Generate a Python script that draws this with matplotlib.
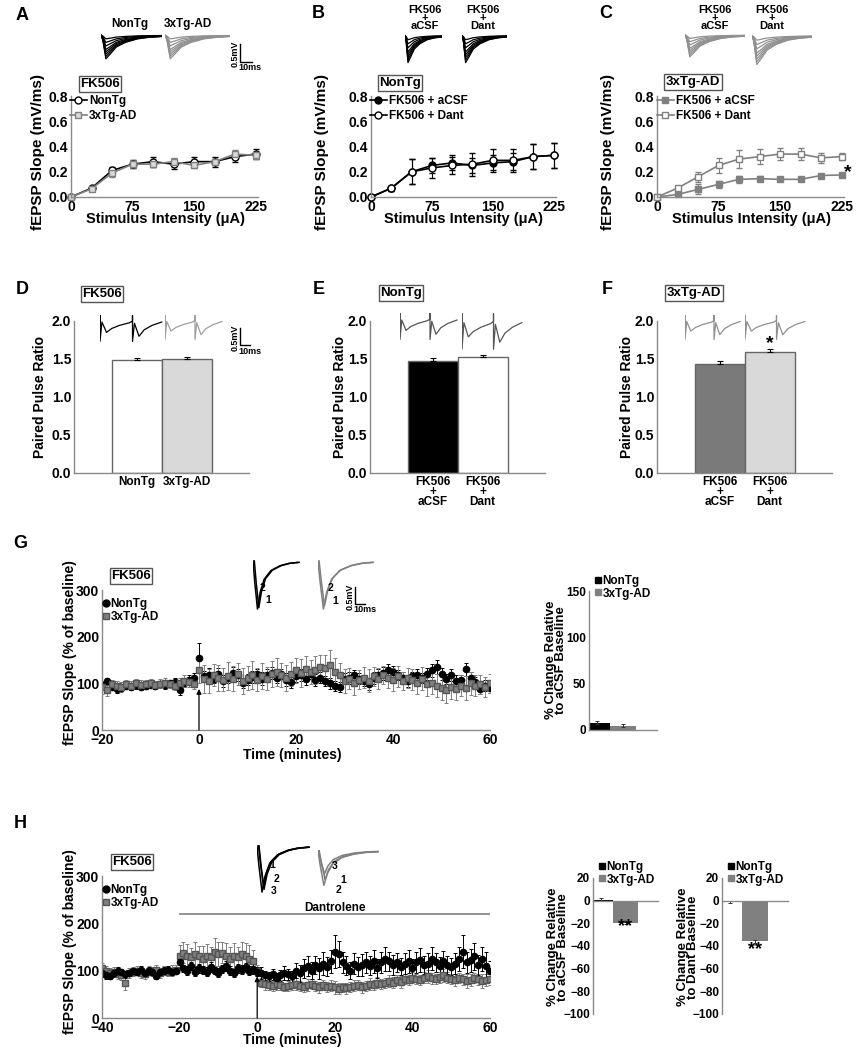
import numpy as np
import matplotlib
matplotlib.use('Agg')
import matplotlib.pyplot as plt
from matplotlib.lines import Line2D

# ---- data ----
IO_X = [0, 25, 50, 75, 100, 125, 150, 175, 200, 225]

A_NONTG = [0, 0.07, 0.21, 0.26, 0.28, 0.26, 0.28, 0.28, 0.32, 0.34]
A_NONTG_ERR = [0.01, 0.01, 0.03, 0.03, 0.04, 0.04, 0.04, 0.04, 0.04, 0.04]
A_3XTG = [0, 0.065, 0.19, 0.26, 0.26, 0.28, 0.25, 0.28, 0.34, 0.33]
A_3XTG_ERR = [0.01, 0.01, 0.03, 0.03, 0.02, 0.03, 0.02, 0.02, 0.03, 0.03]

B_ACSF = [0, 0.07, 0.20, 0.25, 0.27, 0.25, 0.27, 0.28, 0.32, 0.33]
B_ACSF_ERR = [0.01, 0.02, 0.10, 0.06, 0.06, 0.06, 0.06, 0.07, 0.10, 0.10]
B_DANT = [0, 0.07, 0.20, 0.23, 0.25, 0.26, 0.29, 0.29, 0.32, 0.33]
B_DANT_ERR = [0.01, 0.02, 0.10, 0.08, 0.07, 0.09, 0.09, 0.09, 0.10, 0.10]

C_ACSF = [0, 0.02, 0.06, 0.10, 0.14, 0.145, 0.14, 0.14, 0.17, 0.175]
C_ACSF_ERR = [0.005, 0.01, 0.04, 0.03, 0.03, 0.02, 0.01, 0.01, 0.01, 0.01]
C_DANT = [0, 0.07, 0.16, 0.25, 0.30, 0.32, 0.34, 0.34, 0.31, 0.32]
C_DANT_ERR = [0.01, 0.02, 0.04, 0.06, 0.07, 0.06, 0.05, 0.05, 0.04, 0.03]

D_LABELS = ['NonTg', '3xTg-AD']
D_PPR = [1.49, 1.50]
D_PPR_ERR = [0.02, 0.02]
EF_LABELS = ['FK506\n+\naCSF', 'FK506\n+\nDant']
E_PPR = [1.48, 1.52]
E_PPR_ERR = [0.03, 0.03]
F_PPR = [1.44, 1.59]
F_PPR_ERR = [0.03, 0.04]

G_TIME = list(range(-20, 61))
G_NONTG = [97, 105, 92, 88, 90, 95, 92, 96, 93, 95,
           97, 95, 98, 96, 100, 102, 85, 100, 108, 112,
           155, 115, 118, 110, 120, 105, 112, 122, 118, 100,
           108, 113, 120, 110, 118, 122, 112, 120, 108, 102,
           115, 118, 110, 120, 108, 112, 105, 100, 95, 92,
           110, 112, 118, 110, 104, 98, 112, 118, 122, 128,
           125, 118, 112, 105, 115, 118, 112, 120, 128, 135,
           120, 110, 118, 105, 108, 130, 112, 102, 88, 95,
           90]
G_NONTG_ERR = [8, 7, 6, 8, 7, 6, 7, 8, 6, 7,
               8, 7, 6, 8, 7, 9, 10, 8, 9, 10,
               32, 12, 14, 10, 13, 12, 11, 14, 12, 10,
               12, 13, 11, 14, 12, 13, 12, 11, 14, 12,
               13, 12, 14, 11, 13, 12, 10, 12, 11, 10,
               12, 13, 11, 12, 10, 12, 13, 12, 14, 13,
               12, 11, 13, 12, 10, 12, 11, 13, 14, 15,
               12, 11, 13, 12, 10, 14, 12, 11, 10, 12,
               11]
G_3XTG = [92, 85, 98, 95, 92, 98, 95, 100, 96, 98,
          100, 97, 99, 100, 98, 95, 100, 105, 102, 98,
          128, 110, 105, 118, 112, 108, 115, 110, 120, 105,
          112, 118, 108, 115, 110, 120, 125, 118, 112, 120,
          128, 122, 130, 125, 128, 135, 132, 140, 125, 118,
          105, 110, 100, 108, 112, 106, 115, 110, 118, 112,
          108, 115, 105, 112, 108, 100, 110, 98, 100, 95,
          90, 85, 92, 88, 95, 90, 100, 95, 98, 92,
          100]
G_3XTG_ERR = [14, 12, 10, 9, 11, 10, 9, 10, 11, 9,
              10, 9, 10, 11, 9, 10, 11, 12, 10, 11,
              28, 30, 26, 24, 28, 25, 30, 27, 24, 28,
              26, 30, 25, 28, 24, 27, 30, 26, 28, 25,
              27, 30, 28, 26, 30, 25, 28, 32, 30, 26,
              25, 22, 24, 20, 22, 24, 21, 23, 20, 22,
              24, 22, 20, 21, 23, 22, 24, 25, 22, 24,
              26, 28, 25, 24, 22, 26, 24, 22, 20, 22,
              20]
G_BAR = [8, 4.5]
G_BAR_ERR = [2, 1.5]

H_TIME = list(range(-40, 61))
H_NONTG = [95, 90, 88, 95, 100, 98, 92, 95, 100, 98,
           102, 96, 100, 98, 88, 97, 100, 102, 98, 100,
           118, 105, 100, 110, 98, 105, 102, 98, 108, 100,
           96, 104, 110, 100, 95, 105, 102, 108, 100, 104,
           98, 95, 90, 88, 92, 85, 90, 95, 92, 88,
           100, 95, 105, 110, 100, 112, 105, 115, 108, 120,
           140, 135, 118, 110, 100, 115, 108, 112, 118, 110,
           120, 105, 118, 125, 120, 112, 118, 108, 115, 120,
           105, 118, 122, 112, 115, 125, 118, 110, 120, 112,
           108, 115, 125, 140, 118, 122, 130, 112, 125, 110,
           100]
H_NONTG_ERR = [8, 7, 6, 8, 7, 6, 8, 7, 6, 7,
               8, 6, 7, 8, 6, 7, 8, 7, 6, 8,
               10, 8, 9, 8, 10, 9, 8, 9, 10, 8,
               9, 8, 10, 9, 8, 9, 10, 8, 9, 10,
               10, 12, 10, 9, 11, 10, 12, 14, 12, 11,
               16, 18, 20, 22, 18, 20, 22, 25, 20, 24,
               35, 28, 22, 20, 18, 22, 20, 24, 22, 20,
               24, 20, 22, 25, 20, 22, 20, 18, 22, 24,
               20, 22, 25, 20, 22, 24, 20, 18, 22, 20,
               18, 22, 25, 35, 22, 24, 28, 22, 25, 30,
               20]
H_3XTG = [105, 100, 95, 98, 92, 90, 75, 95, 98, 100,
          95, 92, 100, 98, 102, 95, 100, 98, 100, 102,
          130, 138, 132, 128, 135, 130, 125, 132, 128, 140,
          135, 138, 130, 125, 132, 128, 135, 130, 125, 120,
          100, 75, 72, 70, 68, 72, 70, 65, 68, 70,
          72, 68, 65, 70, 72, 68, 65, 70, 66, 68,
          65, 62, 65, 63, 66, 68, 70, 65, 68, 72,
          70, 75, 72, 74, 78, 75, 80, 76, 82, 80,
          85, 82, 80, 85, 88, 84, 82, 86, 90, 85,
          82, 80, 85, 82, 78, 80, 85, 82, 78, 80,
          82]
H_3XTG_ERR = [12, 10, 11, 10, 9, 10, 15, 10, 9, 10,
              11, 9, 10, 9, 10, 11, 9, 10, 11, 10,
              25, 22, 24, 20, 25, 22, 28, 24, 22, 30,
              26, 22, 28, 24, 26, 22, 25, 28, 30, 24,
              12, 10, 12, 10, 11, 12, 10, 9, 11, 10,
              12, 10, 11, 12, 10, 11, 12, 10, 11, 12,
              14, 12, 10, 12, 11, 12, 10, 12, 11, 12,
              10, 12, 11, 10, 12, 11, 10, 12, 11, 10,
              12, 11, 10, 12, 14, 12, 11, 12, 14, 12,
              11, 12, 10, 12, 14, 12, 11, 12, 14, 12,
              12]
H_BAR_ACSF = [1, -19.5]
H_BAR_ACSF_ERR = [1, 1]
H_BAR_DANT = [-1, -36]
H_BAR_DANT_ERR = [1, 1]

# illustrative sweep shapes (normalised)
IO_TRACE_T = [0, 0.03, 0.08, 0.15, 0.25, 0.4, 0.6, 0.8, 1.0]
IO_TRACE_V = [0, -0.2, -1.0, -0.8, -0.5, -0.3, -0.15, -0.08, -0.05]
IO_AMPS = [0.15, 0.3, 0.45, 0.6, 0.7, 0.8, 0.9, 1.0]
PP_T = [0, 0, 0, 0.03, 0.1, 0.18, 0.3, 0.45, 0.5, 0.5, 0.5, 0.53, 0.6, 0.68, 0.8, 0.95]
PP_V = [0.6, 1.0, 0.0, 0.75, 0.35, 0.5, 0.62, 0.72, 0.78, 1.0, 0.0, 0.7, 0.2, 0.45, 0.62, 0.75]
FP_T = [0, 0.04, 0.1, 0.16, 0.25, 0.4, 0.6, 0.8, 1.0]
FP_V = [1.0, 0.55, 0.0, 0.35, 0.62, 0.8, 0.9, 0.95, 0.97]

# ---- figure setup ----
W, H = 856, 1050
plt.rcParams['font.family'] = ['Liberation Sans', 'DejaVu Sans']
plt.rcParams['font.weight'] = 'bold'
plt.rcParams['axes.labelweight'] = 'bold'
AXIS_GRAY = '#8a8a8a'
GRAY = '#808080'
LIGHT = '#d9d9d9'

fig = plt.figure(figsize=(W / 100, H / 100), dpi=100)


def add_ax(l, t, r, b):
    return fig.add_axes([l / W, 1 - b / H, (r - l) / W, (b - t) / H])


def ftext(x, y, s, **kw):
    kw.setdefault('ha', 'center')
    kw.setdefault('va', 'center')
    return fig.text(x / W, 1 - y / H, s, **kw)


def fline(xs, ys, color='black', lw=1):
    fig.add_artist(Line2D([x / W for x in xs], [1 - y / H for y in ys],
                          transform=fig.transFigure, color=color, lw=lw))


def style(ax, tsize=10):
    for s in ['top', 'right']:
        ax.spines[s].set_visible(False)
    for s in ['left', 'bottom']:
        ax.spines[s].set_color(AXIS_GRAY)
        ax.spines[s].set_linewidth(1)
    ax.tick_params(length=0, labelsize=tsize, pad=2)


def box_label(x, y, s):
    ftext(x, y, s, fontsize=9.5,
          bbox=dict(boxstyle='square,pad=0.12', fc='white', ec='#555555', lw=1))


def noclip(cont):
    for art in cont.get_children():
        art.set_clip_on(False)


def scale_bar(x, y0, y1, x1):
    fline([x, x, x1], [y0, y1, y1], lw=1)
    ftext(x - 5, (y0 + y1) / 2 + 1, '0.5mV', fontsize=6.5, rotation=90)
    ftext(x + 10, y1 + 6, '10ms', fontsize=6.5)


# ---- A, B, C: input/output curves ----
def io_panel(l, r, series, leg_xy):
    ax = add_ax(l, 96, r, 197)
    style(ax)
    handles = []
    for y, err, color, mfc, mec, marker, label in series:
        c = ax.errorbar(IO_X, y, yerr=err, color=color, marker=marker, mfc=mfc,
                        mec=mec, ms=5, lw=1.2, elinewidth=0.8, capsize=2,
                        ecolor=color)
        noclip(c)
        handles.append(Line2D([], [], color=color, marker=marker, mfc=mfc,
                              mec=mec, ms=5, lw=1.2, label=label))
    ax.set_xlim(0, 228)
    ax.set_ylim(0, 0.8)
    ax.set_xticks([0, 75, 150, 225])
    ax.set_yticks([0, 0.2, 0.4, 0.6, 0.8])
    ax.set_yticklabels(['0.0', '0.2', '0.4', '0.6', '0.8'])
    ax.legend(handles=handles, loc='upper left',
              bbox_to_anchor=(leg_xy[0] / W, 1 - leg_xy[1] / H),
              bbox_transform=fig.transFigure, frameon=False, fontsize=8.5,
              handlelength=1.4, handletextpad=0.2, labelspacing=0.25,
              borderpad=0, borderaxespad=0)
    return ax


io_panel(71, 258, [
    (A_NONTG, A_NONTG_ERR, 'black', 'white', 'black', 'o', 'NonTg'),
    (A_3XTG, A_3XTG_ERR, GRAY, LIGHT, GRAY, 's', '3xTg-AD')], (70, 95))
io_panel(371, 556, [
    (B_ACSF, B_ACSF_ERR, 'black', 'black', 'black', 'o', 'FK506 + aCSF'),
    (B_DANT, B_DANT_ERR, 'black', 'white', 'black', 'o', 'FK506 + Dant')], (370, 95))
axc = io_panel(657, 844, [
    (C_ACSF, C_ACSF_ERR, GRAY, GRAY, GRAY, 's', 'FK506 + aCSF'),
    (C_DANT, C_DANT_ERR, GRAY, 'white', GRAY, 's', 'FK506 + Dant')], (657, 95))
axc.text(233, 0.19, '*', fontsize=14, ha='center', va='center', clip_on=False)

for x in [38, 322, 608]:
    ftext(x, 152, 'fEPSP Slope (mV/ms)', fontsize=11, rotation=90)
for x in [165, 463, 751]:
    ftext(x, 219, 'Stimulus Intensity (\u03bcA)', fontsize=10.5)

box_label(100, 84, 'FK506')
box_label(400, 83, 'NonTg')
box_label(693, 82, '3xTg-AD')

for x, y, s in [(22, 15, 'A'), (318, 14, 'B'), (606, 14, 'C'),
                (22, 290, 'D'), (319, 290, 'E'), (607, 289, 'F'),
                (20, 543, 'G'), (20, 823, 'H')]:
    ftext(x, y, s, fontsize=13)


def io_traces(l, t, r, b, color):
    ax = add_ax(l, t, r, b)
    ax.axis('off')
    for a in IO_AMPS:
        ax.plot(IO_TRACE_T, np.array(IO_TRACE_V) * a, color=color, lw=0.9)
    ax.set_xlim(0, 1)
    ax.set_ylim(-1.05, 0.1)


io_traces(101, 33, 162, 60, 'black')
io_traces(165, 33, 230, 60, '#909090')
ftext(130, 24, 'NonTg', fontsize=8.5)
ftext(188, 24, '3xTg-AD', fontsize=8.5)
scale_bar(240, 44, 62, 252)

io_traces(405, 33, 442, 64, 'black')
io_traces(462, 33, 507, 64, 'black')
io_traces(685, 33, 745, 58, '#909090')
io_traces(752, 33, 812, 66, '#909090')
ftext(425, 18, 'FK506\n+\naCSF', fontsize=8, linespacing=0.8)
ftext(483, 18, 'FK506\n+\nDant', fontsize=8, linespacing=0.8)
ftext(715, 18, 'FK506\n+\naCSF', fontsize=8, linespacing=0.8)
ftext(772, 18, 'FK506\n+\nDant', fontsize=8, linespacing=0.8)


# ---- D, E, F: paired pulse ratio ----
def ppr_panel(l, vals, errs, colors, labels):
    ax = add_ax(l, 321, l + 175, 473)
    style(ax)
    ax.bar([0, 1], vals, width=1, color=colors, edgecolor='#666666', lw=1,
           yerr=[[0, 0], errs], error_kw=dict(ecolor='black', capsize=2,
                                              elinewidth=0.8, capthick=0.8))
    ax.set_xlim(-1.25, 2.25)
    ax.set_ylim(0, 2.0)
    ax.set_yticks([0, 0.5, 1.0, 1.5, 2.0])
    ax.set_yticklabels(['0.0', '0.5', '1.0', '1.5', '2.0'])
    ax.set_xticks([0, 1])
    ax.set_xticklabels(labels, fontsize=8.5, linespacing=0.8)
    return ax


ppr_panel(74, D_PPR, D_PPR_ERR, ['white', LIGHT], D_LABELS)
ppr_panel(370, E_PPR, E_PPR_ERR, ['black', 'white'], EF_LABELS)
axf = ppr_panel(657, F_PPR, F_PPR_ERR, ['#7a7a7a', LIGHT], EF_LABELS)
axf.text(1, 1.70, '*', fontsize=14, ha='center', va='center')

for x in [40, 340, 627]:
    ftext(x, 397, 'Paired Pulse Ratio', fontsize=10, rotation=90)
box_label(102, 294, 'FK506')
box_label(401, 293, 'NonTg')
box_label(694, 293, '3xTg-AD')


def pp_trace(l, t, r, b, color):
    ax = add_ax(l, t, r, b)
    ax.axis('off')
    ax.plot(PP_T, PP_V, color=color, lw=0.9)
    ax.set_xlim(0, 1)
    ax.set_ylim(-0.02, 1.02)


pp_trace(100, 315, 165, 342, 'black')
pp_trace(165, 315, 225, 340, '#a0a0a0')
scale_bar(240, 328, 345, 250)
pp_trace(400, 313, 460, 340, '#555555')
pp_trace(462, 313, 525, 350, '#555555')
pp_trace(685, 315, 743, 340, '#909090')
pp_trace(745, 315, 808, 340, '#909090')


# ---- G, H: time courses ----
def ts_panel(t, b, time, series, xlim, leg_xy):
    ax = add_ax(102, t, 490, b)
    style(ax)
    handles = []
    for y, err, marker, fc, ec, ecol, label in series:
        ax.errorbar(time, y, yerr=err, fmt=marker, ms=4.5, mfc=fc, mec=ec,
                    ecolor=ecol, elinewidth=0.7, capsize=1.5, capthick=0.7)
        handles.append(Line2D([], [], ls='', marker=marker, mfc=fc, mec=ec,
                              ms=5, label=label))
    ax.set_xlim(*xlim)
    ax.set_ylim(0, 300)
    ax.set_yticks([0, 100, 200, 300])
    ax.set_xticks(list(range(xlim[0], xlim[1] + 1, 20)))
    ax.annotate('', xy=(0, 88), xytext=(0, 0),
                arrowprops=dict(arrowstyle='-|>', color='black', lw=0.9,
                                mutation_scale=7, shrinkA=0, shrinkB=0))
    handles.sort(key=lambda h: h.get_label() != 'NonTg')
    ax.legend(handles=handles, loc='upper left',
              bbox_to_anchor=(leg_xy[0] / W, 1 - leg_xy[1] / H),
              bbox_transform=fig.transFigure, frameon=False, fontsize=8.5,
              handlelength=0.5, handletextpad=0.15, labelspacing=0.1,
              borderpad=0, borderaxespad=0)
    return ax


nontg_g = (G_NONTG, G_NONTG_ERR, 'o', 'black', 'black', 'black', 'NonTg')
tg_g = (G_3XTG, G_3XTG_ERR, 's', GRAY, '#555555', GRAY, '3xTg-AD')
ts_panel(590, 730, G_TIME, [nontg_g, tg_g], (-20, 60), (103, 598))

nontg_h = (H_NONTG, H_NONTG_ERR, 'o', 'black', 'black', 'black', 'NonTg')
tg_h = (H_3XTG, H_3XTG_ERR, 's', GRAY, '#555555', GRAY, '3xTg-AD')
axh = ts_panel(876, 1018, H_TIME, [tg_h, nontg_h], (-40, 60), (103, 884))
axh.plot([-20, 60], [220, 220], color=GRAY, lw=1.2)
axh.text(20, 232, 'Dantrolene', fontsize=8.5, ha='center', va='center')

for y in [653, 942]:
    ftext(70, y, 'fEPSP Slope (% of baseline)', fontsize=10, rotation=90)
ftext(292, 755, 'Time (minutes)', fontsize=10)
ftext(292, 1040, 'Time (minutes)', fontsize=10)
box_label(131, 576, 'FK506')
box_label(132, 862, 'FK506')


def fp_traces(l, t, r, b, color, depths, shifts):
    ax = add_ax(l, t, r, b)
    ax.axis('off')
    for d, s in zip(depths, shifts):
        ax.plot(np.array(FP_T) + s, 1 - d * (1 - np.array(FP_V)), color=color, lw=1.1)
    ax.set_xlim(0, 1.05)
    ax.set_ylim(-0.02, 1.02)


fp_traces(253, 560, 300, 610, 'black', [1.0, 0.97], [0.0, 0.03])
fp_traces(318, 560, 375, 610, '#808080', [1.0, 0.93], [0.0, 0.02])
for x, y, s in [(263, 588, '2'), (268, 600, '1'), (330, 588, '2'), (335, 601, '1')]:
    ftext(x, y, s, fontsize=7.5)
scale_bar(355, 587, 604, 365)

fp_traces(257, 845, 310, 893, 'black', [0.88, 0.94, 1.0], [0.03, 0.04, 0.0])
fp_traces(318, 850, 380, 890, '#808080', [0.75, 0.9, 0.6], [0.02, 0.0, 0.01])
for x, y, s in [(272, 865, '1'), (277, 879, '2'), (274, 891, '3'),
                (335, 866, '3'), (343, 880, '1'), (339, 890, '2')]:
    ftext(x, y, s, fontsize=7.5)


def summary_bar(l, t, r, b, vals, errs, xlim, ylim, yticks, leg_xy):
    ax = add_ax(l, t, r, b)
    style(ax, tsize=8.5)
    ax.bar([0, 1], vals, width=1, color=['black', GRAY],
           yerr=errs, error_kw=dict(ecolor='#333333', capsize=1.5,
                                    elinewidth=0.7, capthick=0.7))
    ax.set_xlim(*xlim)
    ax.set_ylim(*ylim)
    ax.set_yticks(yticks)
    ax.set_xticks([])
    handles = [Line2D([], [], ls='', marker='s', color='black', ms=5, label='NonTg'),
               Line2D([], [], ls='', marker='s', color=GRAY, ms=5, label='3xTg-AD')]
    ax.legend(handles=handles, loc='upper left',
              bbox_to_anchor=(leg_xy[0] / W, 1 - leg_xy[1] / H),
              bbox_transform=fig.transFigure, frameon=False, fontsize=8.5,
              handlelength=0.5, handletextpad=0.15, labelspacing=0.05,
              borderpad=0, borderaxespad=0)
    return ax


summary_bar(589, 591, 657, 730, G_BAR, G_BAR_ERR, (-0.3, 2.3), (0, 150),
            [0, 50, 100, 150], (595, 575))
ftext(556, 660, '% Change Relative\nto aCSF Baseline', fontsize=9.5,
      rotation=90, linespacing=0.85)

for l, r, vals, errs, lab, xlab, star in [
        (593, 658, H_BAR_ACSF, H_BAR_ACSF_ERR, 'aCSF', 558, -23),
        (722, 788, H_BAR_DANT, H_BAR_DANT_ERR, 'Dant', 688, -43)]:
    ax = summary_bar(l, 878, r, 1014, vals, errs, (-0.3, 2.3), (-100, 20),
                     [-100, -80, -60, -40, -20, 0, 20], (l + 6, 861))
    ax.spines['bottom'].set_position(('data', 0))
    ax.text(1, star, '**', fontsize=13, ha='center', va='center')
    ftext(xlab, 947, '% Change Relative\nto ' + lab + ' Baseline', fontsize=9.5,
          rotation=90, linespacing=0.85)

fig.savefig('out.png', dpi=100, facecolor='white')
